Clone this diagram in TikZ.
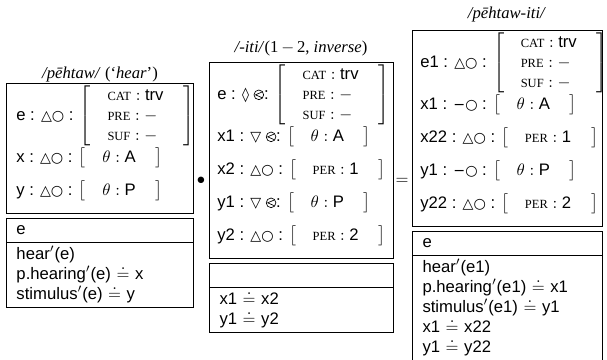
\documentclass[tikz,border=0pt]{standalone}
\usepackage{fontspec}
\setmainfont{Liberation Serif}
\setsansfont{Liberation Sans}
\newfontfamily\symfont{DejaVu Sans}
\usepackage{tikz}
\usetikzlibrary{positioning,shapes.multipart}

% feature names, values and the small status marks
\newcommand{\feat}[1]{\mbox{\rmfamily\fontsize{7.5}{8}\selectfont #1}}
\newcommand{\val}[1]{\mbox{\sffamily #1}}
\newcommand{\sym}[1]{{\symfont\fontsize{8.5}{8}\selectfont #1}}
\newcommand{\lcirc}{\tikz[baseline=-2.6pt, line width=0.4pt]{%
  \draw (0pt,0pt) circle (2.9pt);
  \draw (2.1pt,1.8pt) -- (-2pt,0pt) -- (2.1pt,-1.8pt);}}
\newcommand{\avm}[1]{$\left[\begin{array}{@{\hspace{10pt}}l@{\hspace{12pt}}}#1\end{array}\right]$}

\begin{document}
\begin{tikzpicture}[
  x=0.6pt, y=-0.6pt,
  font=\sffamily\fontsize{10}{12}\selectfont,
  box/.style={draw, line width=0.6pt, inner sep=0pt, anchor=north west},
  row/.style={anchor=west, inner sep=0pt},
  drs/.style={draw, line width=0.6pt, rectangle split, rectangle split parts=2,
              anchor=north west, align=left, inner xsep=6pt, inner ysep=1pt},
  title/.style={font=\rmfamily\fontsize{10}{12}\selectfont, inner sep=0pt},
  op/.style={inner sep=0pt, font=\rmfamily\fontsize{10}{12}\selectfont},
]
\useasboundingbox (0,0) rectangle (607,359);

% the verb stem
\node[title] (hear-title) at (100,74) {\textit{/pēhtaw/} (`\textit{hear}')};
\node[box, minimum width=112.2pt, minimum height=78pt] (hear-top) at (6,83) {};
\node[row] (hear-e) at (16,116)
  {e : \sym{△○} : \avm{\feat{CAT} : \val{trv}\\ \feat{PRE} : -\\ \feat{SUF} : -}};
\node[row] (hear-x) at (16,158) {x : \sym{△○} : \avm{\theta : \val{A}}};
\node[row] (hear-y) at (16,191) {y : \sym{△○} : \avm{\theta : \val{P}}};
\node[drs, text width=100.2pt] (hear-drs) at (6,218)
  {\strut e\nodepart{two}\strut hear$'$(e)\\
   \strut p.hearing$'$(e) $\doteq$ x\\
   \strut stimulus$'$(e) $\doteq$ y};

\node[op] (dot) at (201,181) {$\bullet$};

% the inverse suffix
\node[title] (iti-title) at (301,48)
  {\textit{/-iti/}(1\,$-$\,2, \textit{inverse})};
\node[box, minimum width=110.4pt, minimum height=117.6pt] (iti-top) at (209,62) {};
\node[row] (iti-e) at (217,95)
  {e : \sym{◊} \lcirc: \avm{\feat{CAT} : \val{trv}\\ \feat{PRE} : -\\ \feat{SUF} : -}};
\node[row] (iti-x1) at (217,137) {x1 : \sym{▽} \lcirc: \avm{\theta : \val{A}}};
\node[row] (iti-x2) at (217,170) {x2 : \sym{△○} : \avm{\feat{PER} : \val{1}}};
\node[row] (iti-y1) at (217,203) {y1 : \sym{▽} \lcirc: \avm{\theta : \val{P}}};
\node[row] (iti-y2) at (217,236) {y2 : \sym{△○} : \avm{\feat{PER} : \val{2}}};
\node[drs, text width=98.4pt] (iti-drs) at (209,263)
  {\strut\nodepart{two}\strut x1 $\doteq$ x2\\
   \strut y1 $\doteq$ y2};

\node[op] (eq) at (402,181) {$=$};

% the result
\node[title] (res-title) at (507,14) {\textit{/pēhtaw-iti/}};
\node[box, minimum width=114pt, minimum height=117.6pt] (res-top) at (412,30) {};
\node[row] (res-e1) at (420,63)
  {e1 : \sym{△○} : \avm{\feat{CAT} : \val{trv}\\ \feat{PRE} : -\\ \feat{SUF} : -}};
\node[row] (res-x1) at (420,105) {x1 : \sym{−○} : \avm{\theta : \val{A}}};
\node[row] (res-x22) at (420,138) {x22 : \sym{△○} : \avm{\feat{PER} : \val{1}}};
\node[row] (res-y1) at (420,171) {y1 : \sym{−○} : \avm{\theta : \val{P}}};
\node[row] (res-y22) at (420,204) {y22 : \sym{△○} : \avm{\feat{PER} : \val{2}}};
\node[drs, text width=102pt] (res-drs) at (412,231)
  {\strut e\nodepart{two}\strut hear$'$(e1)\\
   \strut p.hearing$'$(e1) $\doteq$ x1\\
   \strut stimulus$'$(e1) $\doteq$ y1\\
   \strut x1 $\doteq$ x22\\
   \strut y1 $\doteq$ y22};

\end{tikzpicture}
\end{document}
